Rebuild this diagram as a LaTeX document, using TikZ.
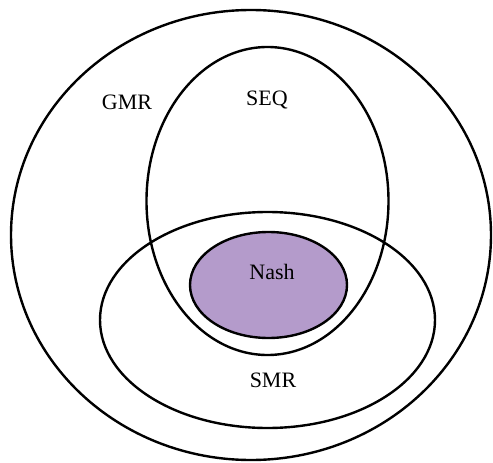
\documentclass[tikz,border=0pt]{standalone}
\usepackage{fontspec}
\setmainfont{Liberation Serif}
\definecolor{nashfill}{RGB}{180,155,203}
\begin{document}
\begin{tikzpicture}[x=1pt,y=-1pt,
  setline/.style={line width=2.4pt,black},
  lbl/.style={font=\fontsize{22}{24}\selectfont,inner sep=0pt}]
\useasboundingbox (0,0) rectangle (493,463);
% outer set GMR
\draw[setline] (251,235) ellipse [x radius=240, y radius=225];
% SEQ
\draw[setline] (267.5,201) ellipse [x radius=121, y radius=154];
% SMR
\draw[setline] (267.5,320) ellipse [x radius=167.5, y radius=108];
% Nash
\draw[setline,fill=nashfill] (268.5,285) ellipse [x radius=78.5, y radius=53];
\node[lbl] (gmr) at (127,102) {GMR};
\node[lbl] (seq) at (267,100) {SEQ};
\node[lbl] (nash) at (272,272) {Nash};
\node[lbl] (smr) at (273,380) {SMR};
\end{tikzpicture}
\end{document}
